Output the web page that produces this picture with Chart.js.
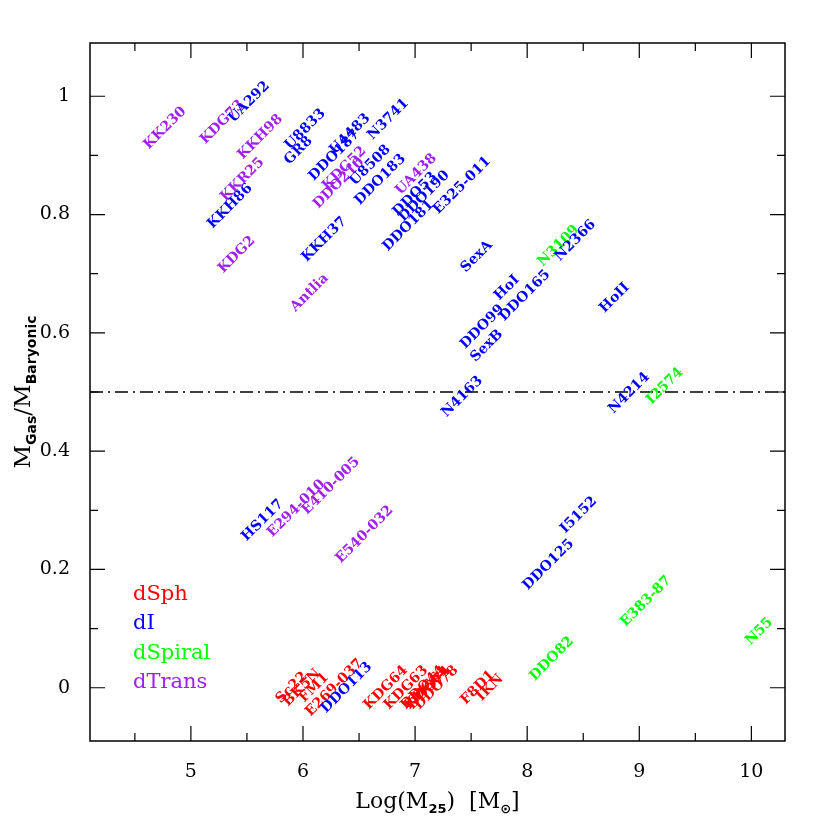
<!DOCTYPE html>
<html>
<head>
<meta charset="utf-8">
<script src="https://cdn.jsdelivr.net/npm/chart.js@4.4.1/dist/chart.umd.min.js"></script>
<style>
  body{margin:0;background:#fff;}
  #c{display:block;}
</style>
</head>
<body>
<canvas id="c" width="830" height="830"></canvas>
<script>
var xTicks=[5,6,7,8,9,10];
var yTicks=[0,0.2,0.4,0.6,0.8,1];
var typeNames=['dSph','dI','dSpiral','dTrans'];
var typeColors=['#ff0000','#0000ff','#00ff00','#a020f0'];

// dSph
var sphNames=['Sc22','BK5N','FM1','E269-037','KDG64','KDG63','DDO44','KDG61','DDO71','DDO78','F8D1','IKN'];
var sphX=[5.90,5.99,6.10,6.28,6.74,6.92,7.07,7.10,7.13,7.19,7.56,7.67];
var sphY=[0,0,0,0,0,0,0,0,0,0,0,0];

// dI
var irrNames=['UA292','U8833','GR8','KKH86','KKH37','DDO187','U4483','N3741','U8508','DDO183',
  'DDO53','DDO190','DDO181','E325-011','SexA','N2366','HoI','DDO165','DDO99','SexB','HoII',
  'N4163','N4214','HS117','I5152','DDO125','DDO113'];
var irrX=[5.52,6.02,5.96,5.35,6.19,6.28,6.42,6.76,6.60,6.69,
  7.00,7.08,6.94,7.42,7.55,8.43,7.82,7.98,7.60,7.64,8.78,
  7.42,8.91,5.64,8.46,8.19,6.39];
var irrY=[0.99,0.944,0.908,0.814,0.758,0.900,0.936,0.961,0.883,0.859,
  0.834,0.831,0.781,0.849,0.729,0.756,0.676,0.663,0.610,0.578,0.659,
  0.492,0.498,0.283,0.292,0.208,0];

// dSpiral
var spiNames=['N3109','I2574','E383-87','DDO82','N55'];
var spiX=[8.28,9.23,9.06,8.22,10.07];
var spiY=[0.747,0.510,0.146,0.049,0.095];

// dTrans
var trnNames=['KK230','KDG73','KKH98','KKR25','KDG2','Antlia','KDG52','DDO210','UA438','E294-010','E410-005','E540-032'];
var trnX=[4.77,5.28,5.62,5.46,5.41,6.06,6.37,6.32,7.01,5.94,6.25,6.55];
var trnY=[0.946,0.956,0.931,0.859,0.732,0.668,0.878,0.853,0.868,0.303,0.341,0.259];

var refX=[4.1,10.3];
var refY=[0.5,0.5];

function pts(xs,ys){ return xs.map(function(x,i){ return {x:x,y:ys[i]}; }); }

var labelPlugin={
  id:'labels',
  afterDatasetsDraw:function(chart){
    var ctx=chart.ctx;
    ctx.save();
    ctx.font='bold 14px "DejaVu Serif"';
    ctx.textAlign='center';
    ctx.textBaseline='middle';
    chart.data.datasets.forEach(function(ds,i){
      if(!ds.names) return;
      chart.getDatasetMeta(i).data.forEach(function(p,j){
        ctx.save();
        ctx.translate(p.x,p.y);
        ctx.rotate(-45*Math.PI/180);
        ctx.fillStyle=ds.borderColor;
        ctx.fillText(ds.names[j],0,0);
        ctx.restore();
      });
    });
    ctx.restore();
  }
};

function drawRuns(ctx,runs,big,small,off){
  var w=0;
  runs.forEach(function(r){ ctx.font=r[1]?small:big; w+=ctx.measureText(r[0]).width; });
  var x=-w/2;
  runs.forEach(function(r){
    ctx.font=r[1]?small:big;
    ctx.fillText(r[0],x,r[1]?off:0);
    x+=ctx.measureText(r[0]).width;
  });
}

var framePlugin={
  id:'frame',
  afterDraw:function(chart){
    var ctx=chart.ctx, a=chart.chartArea, xs=chart.scales.x, ys=chart.scales.y;
    ctx.save();
    ctx.strokeStyle='#000';
    ctx.lineWidth=1.5;
    ctx.strokeRect(a.left,a.top,a.right-a.left,a.bottom-a.top);
    ctx.lineWidth=1.2;
    ctx.beginPath();
    for(var v=4.5;v<=10.3;v+=0.5){
      var px=xs.getPixelForValue(v);
      if(px<a.left||px>a.right) continue;
      var L=(Math.abs(v-Math.round(v))<1e-6)?15:8;
      ctx.moveTo(px,a.bottom); ctx.lineTo(px,a.bottom-L);
      ctx.moveTo(px,a.top); ctx.lineTo(px,a.top+L);
    }
    for(var k=0;k<=10;k++){
      var py=ys.getPixelForValue(k/10);
      var L2=(k%2===0)?15:8;
      ctx.moveTo(a.left,py); ctx.lineTo(a.left+L2,py);
      ctx.moveTo(a.right,py); ctx.lineTo(a.right-L2,py);
    }
    ctx.stroke();

    // legend
    ctx.textAlign='left';
    ctx.textBaseline='alphabetic';
    ctx.font='21px "DejaVu Serif"';
    typeNames.forEach(function(n,i){
      ctx.fillStyle=typeColors[i];
      ctx.fillText(n,a.left+43,600+i*29.3);
    });

    // axis titles
    ctx.fillStyle='#000';
    ctx.textAlign='left';
    ctx.save();
    ctx.translate((a.left+a.right)/2,808);
    drawRuns(ctx,[['Log(M',0],['25',1],[')  [M',0],['\u2299',1],[']',0]],'22px "DejaVu Serif"','bold 13px "DejaVu Sans"',5);
    ctx.restore();
    ctx.save();
    ctx.translate(30,(a.top+a.bottom)/2);
    ctx.rotate(-Math.PI/2);
    drawRuns(ctx,[['M',0],['Gas',1],['/M',0],['Baryonic',1]],'23px "DejaVu Serif"','bold 14px "DejaVu Sans"',6);
    ctx.restore();
    ctx.restore();
  }
};

function labelSet(names,xs,ys,color){
  return {type:'scatter',names:names,data:pts(xs,ys),borderColor:color,backgroundColor:color,pointRadius:0};
}

new Chart(document.getElementById('c'),{
  type:'scatter',
  data:{
    datasets:[
      {type:'line',data:pts(refX,refY),borderColor:'#000',borderWidth:1.5,borderDash:[13,5,2,5],pointRadius:0,fill:false},
      labelSet(sphNames,sphX,sphY,typeColors[0]),
      labelSet(spiNames,spiX,spiY,typeColors[2]),
      labelSet(trnNames,trnX,trnY,typeColors[3]),
      labelSet(irrNames,irrX,irrY,typeColors[1])
    ]
  },
  options:{
    responsive:false,
    animation:false,
    layout:{padding:{top:43,right:45,left:0,bottom:0}},
    plugins:{legend:{display:false},tooltip:{enabled:false}},
    scales:{
      x:{
        type:'linear',min:4.1,max:10.3,
        grid:{display:false},border:{display:false},
        afterBuildTicks:function(s){ s.ticks=xTicks.map(function(v){return {value:v};}); },
        afterFit:function(s){ s.height=89; },
        ticks:{color:'#000',font:{family:'DejaVu Serif',size:19},padding:12,maxRotation:0}
      },
      y:{
        type:'linear',min:-0.09,max:1.09,
        grid:{display:false},border:{display:false},
        afterBuildTicks:function(s){ s.ticks=yTicks.map(function(v){return {value:v};}); },
        afterFit:function(s){ s.width=90; },
        ticks:{color:'#000',font:{family:'DejaVu Serif',size:19},padding:12,
          callback:function(v){ return v===0?'0':v===1?'1':v.toFixed(1); }}
      }
    }
  },
  plugins:[labelPlugin,framePlugin]
});
</script>
</body>
</html>
